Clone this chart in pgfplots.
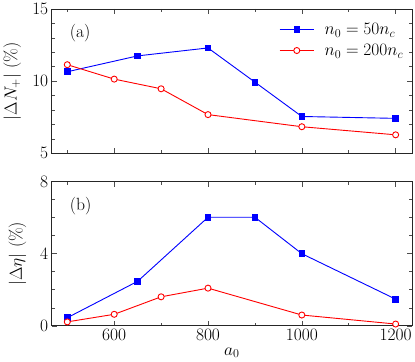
\documentclass[border=0pt]{standalone}
\usepackage{pgfplots}
\pgfplotsset{compat=1.18}
\begin{document}
\begin{tikzpicture}
\pgfplotsset{
  every axis/.append style={
    scale only axis, width=357pt, height=143pt,
    xmin=467, xmax=1235,
    xtick={600,800,1000,1200},
    minor xtick={500,700,900,1100},
    x tick label style={/pgf/number format/1000 sep={}},
    tick align=inside,
    major tick length=5pt, minor tick length=3pt,
    font=\fontsize{17.5}{21}\selectfont,
    axis line style={line width=0.8pt, black!85},
    every tick/.style={black!70, line width=0.6pt},
    legend image code/.code={\draw[mark repeat=2,mark phase=2]
      plot coordinates {(0cm,0cm) (0.6cm,0cm) (1.2cm,0cm)};},
  },
  bl/.style={blue, line width=0.9pt, mark=square*, mark size=2.8pt},
  rd/.style={red, line width=0.9pt, mark=*, mark size=3pt, mark options={fill=white}},
}
% panel (a)
\begin{axis}[at={(0pt,171pt)}, anchor=south west,
  ymin=5, ymax=15, ytick={5,10,15}, minor ytick={6,7,8,9,11,12,13,14},
  xticklabels={},
  ylabel={$|\Delta N_+|$ (\%)},
  ylabel style={at={(axis description cs:-0.11,0.5)}, anchor=center},
  legend style={draw=none, fill=none, at={(0.99,0.93)}, anchor=north east,
    row sep=4pt, /tikz/every odd column/.append style={column sep=8pt}},
  legend cell align=left]
\addplot[bl] coordinates {
  (500,10.65) (650,11.75) (800,12.3) (900,9.93) (1000,7.55) (1200,7.42)};
\addlegendentry{$n_0=50n_c$}
\addplot[rd] coordinates {
  (500,11.14) (600,10.14) (700,9.47) (800,7.68) (1000,6.84) (1200,6.28)};
\addlegendentry{$n_0=200n_c$}
\node[anchor=west] at (rel axis cs:0.04,0.83) {(a)};
\end{axis}
% panel (b)
\begin{axis}[at={(0pt,0pt)}, anchor=south west,
  ymin=0, ymax=8, ytick={0,4,8}, minor ytick={1,2,3,5,6,7},
  xlabel={$a_0$},
  ylabel={$|\Delta\eta|$ (\%)},
  ylabel style={at={(axis description cs:-0.095,0.5)}, anchor=center}]
\addplot[bl] coordinates {
  (500,0.45) (650,2.47) (800,6.02) (900,6.02) (1000,4.0) (1200,1.48)};
\addplot[rd] coordinates {
  (500,0.22) (600,0.64) (700,1.61) (800,2.09) (1000,0.6) (1200,0.1)};
\node[anchor=west] at (rel axis cs:0.04,0.83) {(b)};
\end{axis}
\end{tikzpicture}
\end{document}
